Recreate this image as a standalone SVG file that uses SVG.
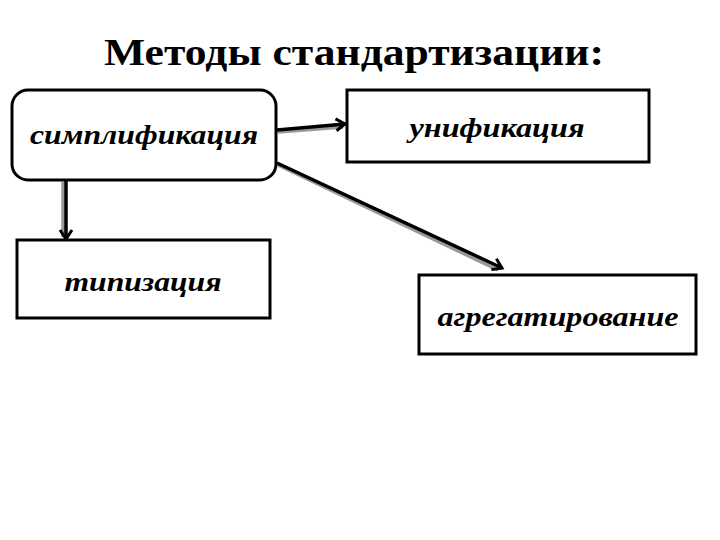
<svg xmlns="http://www.w3.org/2000/svg" width="720" height="540" viewBox="0 0 720 540">
<style>
.box{fill:#fff;stroke:#000;stroke-width:3}
.lbl{font-family:"Liberation Serif","Times New Roman",serif;font-weight:bold;font-style:italic;font-size:28px;fill:#000;text-anchor:middle}
.title{font-family:"Liberation Serif","Times New Roman",serif;font-weight:bold;font-size:38px;fill:#000;text-anchor:middle}
.con{fill:none;stroke:#000;stroke-width:3.5}
.sh{fill:none;stroke:#999;stroke-width:3.5}
</style>
<defs>
<marker id="ah" markerWidth="16" markerHeight="16" refX="12" refY="8" orient="auto" markerUnits="userSpaceOnUse" viewBox="0 0 16 16">
<path d="M3,2 L12,8 L3,14" fill="none" stroke="#000" stroke-width="3"/>
</marker>
</defs>
<rect width="720" height="540" fill="#fff"/>
<text class="title" x="354" y="65" textLength="500" lengthAdjust="spacingAndGlyphs">Методы стандартизации:</text>
<g id="connectors">
<line class="sh" x1="278" y1="132" x2="343" y2="127"/>
<line class="sh" x1="278" y1="165" x2="498" y2="270"/>
<line class="sh" x1="63" y1="182" x2="63" y2="237"/>
<line class="con" x1="277" y1="130" x2="345" y2="124" marker-end="url(#ah)"/>
<line class="con" x1="277" y1="163" x2="502" y2="268" marker-end="url(#ah)"/>
<line class="con" x1="66" y1="181" x2="66" y2="239" marker-end="url(#ah)"/>
</g>
<g id="simplification">
<rect class="box" x="12" y="90" width="264" height="90" rx="16" ry="16"/>
<text class="lbl" x="144" y="144" textLength="228" lengthAdjust="spacingAndGlyphs">симплификация</text>
</g>
<g id="unification">
<rect class="box" x="347" y="90" width="302" height="72"/>
<text class="lbl" x="497" y="137" textLength="175" lengthAdjust="spacingAndGlyphs">унификация</text>
</g>
<g id="typization">
<rect class="box" x="17" y="240" width="253" height="78"/>
<text class="lbl" x="143" y="291" textLength="157" lengthAdjust="spacingAndGlyphs">типизация</text>
</g>
<g id="aggregation">
<rect class="box" x="419" y="275" width="277" height="79"/>
<text class="lbl" x="558" y="326" textLength="241" lengthAdjust="spacingAndGlyphs">агрегатирование</text>
</g>
</svg>
